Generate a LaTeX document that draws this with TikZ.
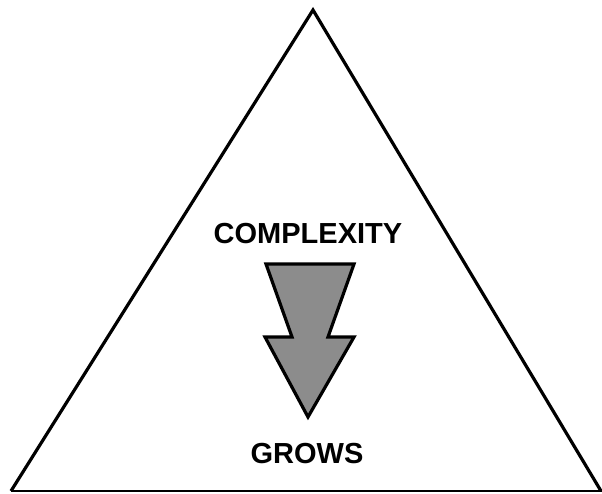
\documentclass[tikz,border=0pt]{standalone}
\usepackage{fontspec}
\setmainfont{Liberation Sans}
\begin{document}
\begin{tikzpicture}[x=1pt,y=-1pt,
  label/.style={font=\fontsize{29}{29}\selectfont\bfseries, inner sep=0pt, anchor=base},
  outline/.style={line width=3.2pt, line join=miter},
  arrowfill/.style={fill=black!45, draw=black, line width=3.2pt, line join=miter}]
\useasboundingbox (0,0) rectangle (602,493);
\coordinate (apex) at (313,10);
\coordinate (bl) at (11,491);
\coordinate (br) at (601,491);
\draw[outline] (bl) -- (apex) -- (br);
\draw[line width=2.4pt] (bl) -- (602,491);
\node[label] (cx) at (308,243) {COMPLEXITY};
\node[label] (gr) at (307,463) {GROWS};
\draw[arrowfill] (266,264) -- (354,264) -- (328,337) -- (354,337) -- (308,417) -- (265,337) -- (292,337) -- cycle;
\end{tikzpicture}
\end{document}
